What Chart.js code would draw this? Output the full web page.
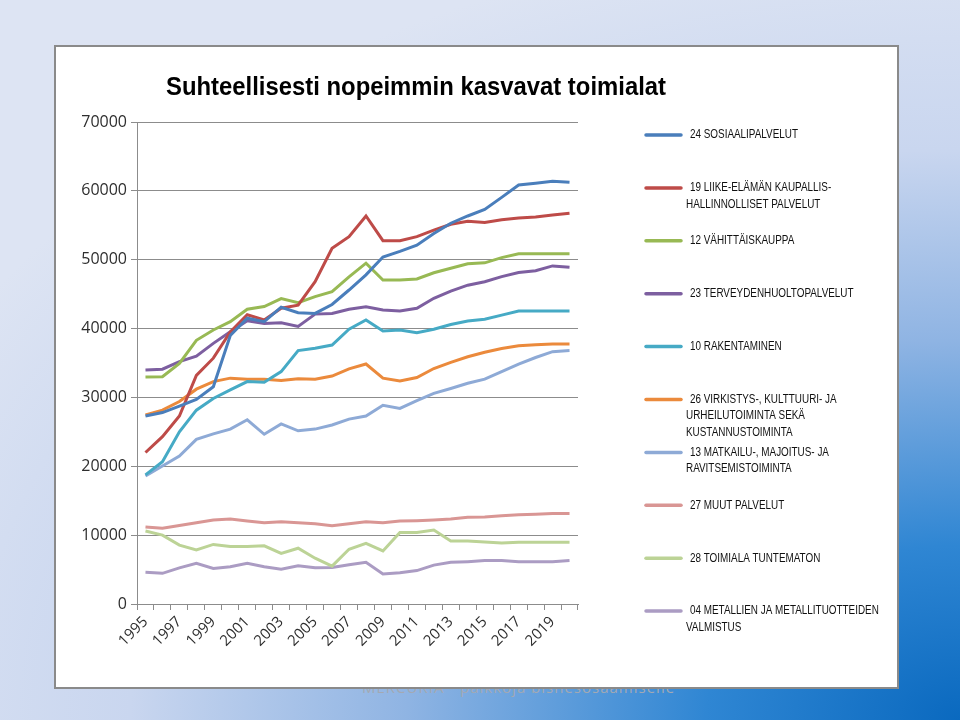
<!DOCTYPE html>
<html>
<head>
<meta charset="utf-8">
<script src="https://cdn.jsdelivr.net/npm/chart.js@4/dist/chart.umd.min.js"></script>
<style>
  html, body { margin: 0; padding: 0; }
  body {
    width: 960px; height: 720px; overflow: hidden; position: relative;
    background: radial-gradient(ellipse 120% 110% at 100% 100%, #0a69bf 0%, #2f86d3 22%, #8fb4e3 48%, #c9d6ef 72%, #dde4f3 100%);
  }
  #mark {
    position: absolute; left: 362px; top: 677px;
    font: 15px "Open Sans", sans-serif; color: #a3a9b3; letter-spacing: 1px;
  }
  #panel {
    position: absolute; left: 54px; top: 45px;
    width: 841px; height: 640px;
    background: #fff; border: 2px solid #8a8a8a;
  }
</style>
</head>
<body>
<div id="mark">MERCURIA - paikkoja bisnesosaamiselle</div>
<div id="panel"><canvas id="chart" width="841" height="640"></canvas></div>
<script>
// --- Data ---
const years = ['1995', '1996', '1997', '1998', '1999', '2000', '2001', '2002', '2003', '2004', '2005', '2006', '2007',
    '2008', '2009', '2010', '2011', '2012', '2013', '2014', '2015', '2016', '2017', '2018', '2019', '2020'];

const sosiaali = [27300, 27800, 28750, 29700, 31550, 39000, 41500, 41000, 43100, 42300, 42200, 43500, 45600,
    47800, 50400, 51200, 52100, 53800, 55300, 56350, 57300, 59050, 60850, 61100, 61400, 61250];
const liike = [22000, 24300, 27300, 33200, 35700, 39500, 42000, 41250, 42950, 43400, 46800, 51650, 53350,
    56350, 52760, 52760, 53350, 54300, 55150, 55600, 55400, 55800, 56050, 56200, 56500, 56750];
const vahittais = [32950, 33000, 34950, 38300, 39800, 41000, 42800, 43200, 44350, 43750, 44650, 45350, 47500,
    49500, 47050, 47050, 47200, 48100, 48750, 49400, 49550, 50300, 50850, 50850, 50850, 50850];
const terveys = [34000, 34100, 35200, 36000, 37850, 39550, 41150, 40750, 40850, 40300, 42100, 42200, 42800,
    43150, 42700, 42550, 42950, 44400, 45450, 46300, 46800, 47550, 48150, 48400, 49100, 48900];
const rakentaminen = [18750, 20650, 25000, 28150, 29850, 31100, 32300, 32200, 33750, 36800, 37150, 37600, 39900,
    41250, 39650, 39800, 39400, 39900, 40600, 41100, 41350, 41950, 42550, 42550, 42550, 42550];
const virkistys = [27450, 28150, 29400, 31200, 32300, 32800, 32650, 32650, 32450, 32700, 32650, 33100, 34150,
    34850, 32800, 32400, 32900, 34200, 35100, 35900, 36550, 37100, 37500, 37650, 37750, 37750];
const matkailu = [18600, 20050, 21500, 23900, 24700, 25400, 26750, 24650, 26150, 25150, 25400, 26000, 26850,
    27300, 28850, 28400, 29550, 30600, 31300, 32050, 32650, 33750, 34850, 35800, 36650, 36800];
const muut = [11200, 11000, 11400, 11800, 12200, 12350, 12050, 11800, 11950, 11800, 11650, 11350, 11650,
    11950, 11800, 12050, 12100, 12200, 12350, 12600, 12650, 12800, 12950, 13050, 13150, 13150];
const tuntematon = [10600, 10000, 8550, 7850, 8650, 8350, 8350, 8450, 7350, 8100, 6650, 5500, 7950,
    8800, 7700, 10400, 10400, 10750, 9150, 9150, 9000, 8850, 8950, 8950, 8950, 8950];
const metallit = [4600, 4450, 5250, 5900, 5150, 5400, 5900, 5400, 5050, 5550, 5250, 5300, 5700,
    6050, 4350, 4550, 4850, 5650, 6050, 6150, 6300, 6300, 6150, 6150, 6150, 6300];

const seriesLabels = [
    ['24 SOSIAALIPALVELUT'],
    ['19 LIIKE-ELÄMÄN KAUPALLIS-', 'HALLINNOLLISET PALVELUT'],
    ['12 VÄHITTÄISKAUPPA'],
    ['23 TERVEYDENHUOLTOPALVELUT'],
    ['10 RAKENTAMINEN'],
    ['26 VIRKISTYS-, KULTTUURI- JA', 'URHEILUTOIMINTA SEKÄ', 'KUSTANNUSTOIMINTA'],
    ['13 MATKAILU-, MAJOITUS- JA', 'RAVITSEMISTOIMINTA'],
    ['27 MUUT PALVELUT'],
    ['28 TOIMIALA TUNTEMATON'],
    ['04 METALLIEN JA METALLITUOTTEIDEN', 'VALMISTUS']
];
const seriesValues = [sosiaali, liike, vahittais, terveys, rakentaminen, virkistys, matkailu, muut, tuntematon, metallit];
const seriesColors = ['#4a7ebb', '#be4b48', '#98b954', '#7d5fa0', '#46aac5', '#eb8a3c', '#8eaad6', '#d99694', '#bcd396', '#ab9cc3'];

const chartTitle = 'Suhteellisesti nopeimmin kasvavat toimialat';

// --- Title + legend drawn on the canvas ---
const sideLegend = {
    id: 'sideLegend',
    afterDraw(chart) {
        const ctx = chart.ctx;
        ctx.save();

        // title, squeezed to the width of the original
        ctx.font = 'bold 26px "Liberation Sans Narrow", "Liberation Sans", sans-serif';
        ctx.fillStyle = '#000';
        ctx.textBaseline = 'middle';
        const tw = ctx.measureText(chartTitle).width;
        ctx.save();
        ctx.translate(110, 41);
        ctx.scale(500 / tw, 1);
        ctx.fillText(chartTitle, 0, 0);
        ctx.restore();

        // legend
        ctx.font = '12px "Liberation Sans Narrow", "Liberation Sans", sans-serif';
        const sx = 108 / ctx.measureText(seriesLabels[0][0]).width;
        chart.data.datasets.forEach((ds, i) => {
            const y = 88 + i * 52.9;
            ctx.strokeStyle = ds.borderColor;
            ctx.lineWidth = 3.5;
            ctx.lineCap = 'round';
            ctx.beginPath();
            ctx.moveTo(590, y);
            ctx.lineTo(625, y);
            ctx.stroke();
            ctx.fillStyle = '#111';
            ds.label.forEach((line, j) => {
                ctx.save();
                ctx.translate(j === 0 ? 634 : 630, y + j * 16.5);
                ctx.scale(sx, 1);
                ctx.fillText(line, 0, 0);
                ctx.restore();
            });
        });
        ctx.restore();
    }
};

const axisColor = '#8c8c8c';
const tickColor = '#2e2e2e';

new Chart(document.getElementById('chart'), {
    type: 'line',
    data: {
        labels: years,
        datasets: seriesValues.map((vals, i) => ({
            label: seriesLabels[i],
            data: vals,
            borderColor: seriesColors[i],
            backgroundColor: seriesColors[i],
            borderWidth: 3,
            pointRadius: 0,
            tension: 0,
            fill: false
        }))
    },
    options: {
        responsive: false,
        animation: false,
        devicePixelRatio: 1,
        layout: { padding: { top: 75, right: 319, left: 0, bottom: 0 } },
        plugins: {
            legend: { display: false },
            title: { display: false },
            tooltip: { enabled: false }
        },
        scales: {
            x: {
                offset: true,
                grid: { offset: true, drawOnChartArea: false, color: axisColor, tickLength: 6 },
                border: { color: axisColor },
                ticks: {
                    autoSkip: false,
                    minRotation: 45,
                    maxRotation: 45,
                    color: tickColor,
                    font: { family: '"Open Sans", sans-serif', size: 15 },
                    callback: function (v, i) { return i % 2 === 0 ? this.getLabelForValue(v) : ''; }
                },
                afterFit: s => { s.height = 83; }
            },
            y: {
                min: 0,
                max: 70000,
                grid: { color: axisColor, tickLength: 6 },
                border: { color: axisColor },
                ticks: {
                    stepSize: 10000,
                    color: tickColor,
                    font: { family: '"Open Sans", sans-serif', size: 16 },
                    padding: 4,
                    callback: v => String(v)
                },
                afterFit: s => { s.width = 81; }
            }
        }
    },
    plugins: [sideLegend]
});
</script>
</body>
</html>
